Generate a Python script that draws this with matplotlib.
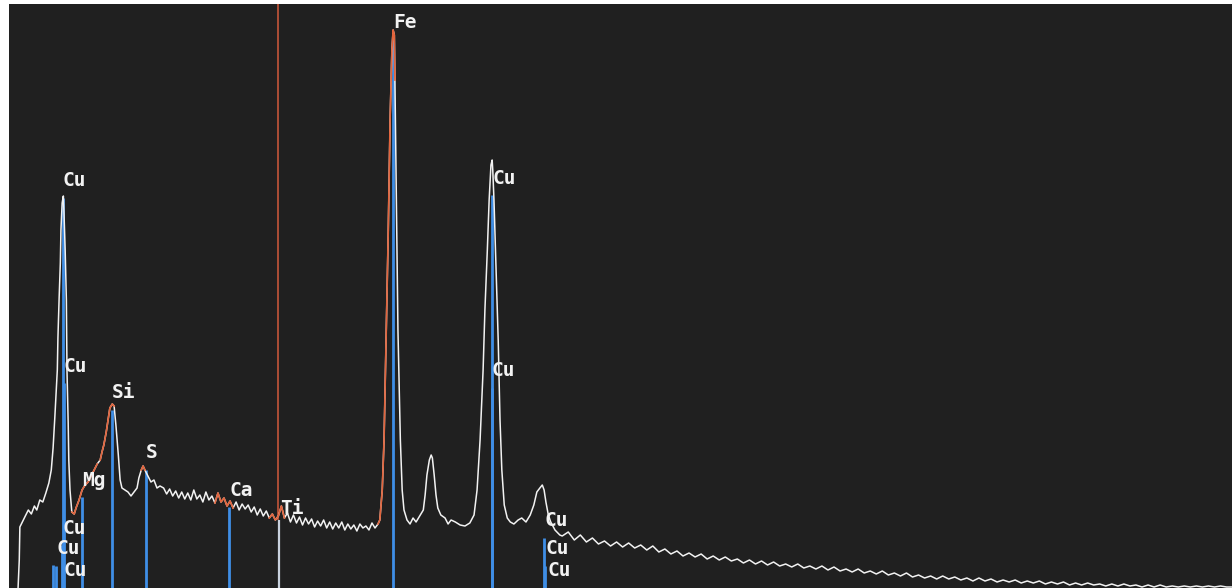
import numpy as np
import matplotlib
matplotlib.use("Agg")
import matplotlib.pyplot as plt

# ---- spectrum: energy (keV) and counts ----
energy_low = [0.19, 0.21, 0.22, 0.26, 0.31, 0.36, 0.41, 0.46, 0.50, 0.55, 0.60, 0.65,
              0.70, 0.74, 0.77, 0.80, 0.84, 0.85, 0.87, 0.89, 0.90, 0.92, 0.94, 0.95,
              0.97, 0.99, 1.00, 1.02, 1.03, 1.05, 1.08, 1.12, 1.15, 1.20, 1.25, 1.30,
              1.35, 1.40, 1.45, 1.50, 1.55, 1.58, 1.61, 1.65, 1.68, 1.71, 1.75, 1.78,
              1.81, 1.85, 1.88, 1.91, 1.96, 2.01, 2.06, 2.11, 2.16, 2.19, 2.23, 2.26,
              2.29, 2.34, 2.39, 2.44, 2.49, 2.54]
counts_low = [0, 28, 61, 66, 72, 78, 74, 82, 78, 88, 86, 95,
              105, 118, 140, 172, 218, 250, 290, 325, 358, 385, 392, 376,
              338, 288, 218, 165, 128, 98, 76, 74, 80, 88, 98, 103,
              106, 112, 118, 124, 128, 136, 143, 156, 168, 180, 184, 182,
              163, 133, 108, 100, 98, 96, 92, 96, 100, 110, 118, 122,
              118, 112, 106, 108, 100, 102]

energy_mid = [round(2.60 + 0.05 * i, 2) for i in range(72)]
counts_mid = [100, 94, 99, 92, 97, 90, 96, 89, 95, 88, 98, 89,
              93, 86, 96, 88, 92, 85, 95, 86, 90, 82, 87, 80,
              86, 78, 84, 79, 83, 76, 81, 73, 79, 72, 77, 70,
              74, 68, 72, 82, 70, 75, 66, 73, 65, 71, 63, 70,
              64, 69, 61, 67, 62, 68, 60, 66, 59, 65, 60, 66,
              58, 64, 59, 63, 57, 64, 60, 62, 58, 65, 60, 64]

energy_k = [6.18, 6.22, 6.25, 6.28, 6.32, 6.35, 6.38, 6.40, 6.42, 6.43, 6.45, 6.48,
            6.52, 6.55, 6.58, 6.63, 6.68, 6.73, 6.78, 6.85, 6.90, 6.93, 6.96, 7.00,
            7.03, 7.05, 7.08, 7.11, 7.14, 7.19, 7.26, 7.31, 7.36, 7.43, 7.51, 7.59,
            7.67, 7.74, 7.79, 7.84, 7.89, 7.92, 7.96, 7.99, 8.02, 8.04, 8.05, 8.07,
            8.10, 8.14, 8.17, 8.20, 8.24, 8.29, 8.34, 8.40, 8.47, 8.53, 8.60, 8.67,
            8.73, 8.78, 8.83, 8.87, 8.90, 8.93, 8.97, 9.01, 9.08, 9.16]
counts_k = [68, 98, 148, 238, 358, 468, 538, 558, 553, 508, 408, 258,
            148, 98, 78, 68, 64, 70, 66, 73, 78, 93, 113, 128,
            133, 130, 113, 93, 80, 73, 70, 64, 68, 66, 63, 62,
            65, 73, 98, 148, 218, 278, 338, 388, 423, 428, 418, 388,
            328, 248, 168, 118, 83, 70, 66, 64, 68, 70, 66, 73,
            83, 96, 100, 103, 98, 86, 73, 66, 58, 53]

energy_tail = [round(9.2 + 0.1 * i, 1) for i in range(112)]
counts_tail = [52, 56, 48, 53, 46, 50, 44, 47, 42, 46, 41, 45,
               40, 43, 38, 42, 36, 39, 34, 37, 32, 35, 31, 34,
               29, 32, 28, 31, 27, 29, 25, 28, 24, 27, 23, 26,
               22, 24, 21, 24, 20, 22, 19, 22, 18, 21, 17, 19,
               16, 19, 15, 17, 14, 17, 13, 15, 12, 15, 11, 13,
               10, 12, 9, 12, 9, 11, 8, 10, 7, 10, 7, 9,
               6, 8, 6, 8, 5, 7, 5, 7, 4, 6, 4, 6,
               3, 5, 3, 5, 3, 4, 2, 4, 2, 4, 2, 3,
               1, 3, 1, 3, 1, 2, 1, 2, 1, 2, 1, 2,
               1, 2, 1, 1]

# ---- identified element regions (highlighted on the trace) ----
roi_lo = [1.08, 1.55, 2.20, 3.45, 4.35, 6.15]
roi_hi = [1.50, 1.79, 2.32, 3.75, 4.60, 6.43]

# ---- element line markers: energy (keV), marker height, label ----
marker_energy = [0.93, 0.95, 0.92, 0.82, 0.95, 0.77,
                 1.25, 1.74, 2.31, 3.69, 6.40,
                 8.04, 8.03, 8.90, 8.92, 8.95]
marker_height = [390, 205, 43, 22, 0, 23,
                 91, 178, 118, 81, 548,
                 393, 200, 50, 22, 0]
marker_label = ["Cu", "Cu", "Cu", "Cu", "Cu", "",
                "Mg", "Si", "S", "Ca", "Fe",
                "Cu", "Cu", "Cu", "Cu", "Cu"]

# ---- Ti line and cursor ----
ti_energy, ti_height, ti_label = 4.51, 68, "Ti"
cursor_energy = 4.50

energy = np.array(energy_low + energy_mid + energy_k + energy_tail)
counts = np.array(counts_low + counts_mid + counts_k + counts_tail, dtype=float)

BG = "#202020"
WHITE = "#f2f2f2"
ORANGE = "#e2643c"
BLUE = "#3f8ee6"

fig = plt.figure(figsize=(12.32, 5.88), dpi=100, facecolor="white")
ax = fig.add_axes([9 / 1232, 0, 1 - 9 / 1232, 584 / 588])
ax.set_facecolor(BG)
ax.set_xlim(0.04, 20.29)
ax.set_ylim(0, 584)
ax.set_xticks([])
ax.set_yticks([])
for s in ax.spines.values():
    s.set_visible(False)

# element markers
for e, h in zip(marker_energy, marker_height):
    if h > 0:
        ax.vlines(e, 0, h, color=BLUE, lw=2.0, zorder=2)
ax.vlines(ti_energy, 0, ti_height, color="#c9d2de", lw=1.6, zorder=2)
ax.vlines(cursor_energy, ti_height, 584, color="#c4553a", lw=1.2, zorder=2)

# spectrum trace
ax.plot(energy, counts, color=WHITE, lw=1.1, zorder=3)
for lo, hi in zip(roi_lo, roi_hi):
    m = (energy >= lo) & (energy <= hi)
    ax.plot(energy[m], counts[m], color=ORANGE, lw=1.2, zorder=4)

# labels
font = dict(family="DejaVu Sans Mono", fontsize=14, fontweight="bold",
            color=WHITE, zorder=5)
for e, h, t in zip(marker_energy, marker_height, marker_label):
    if t:
        ax.text(e, h + 17, t, ha="left", va="center", **font)
ax.text(ti_energy + 0.02, ti_height + 12, ti_label, ha="left", va="center", **font)

fig.savefig("out.png", dpi=100, facecolor=fig.get_facecolor())
